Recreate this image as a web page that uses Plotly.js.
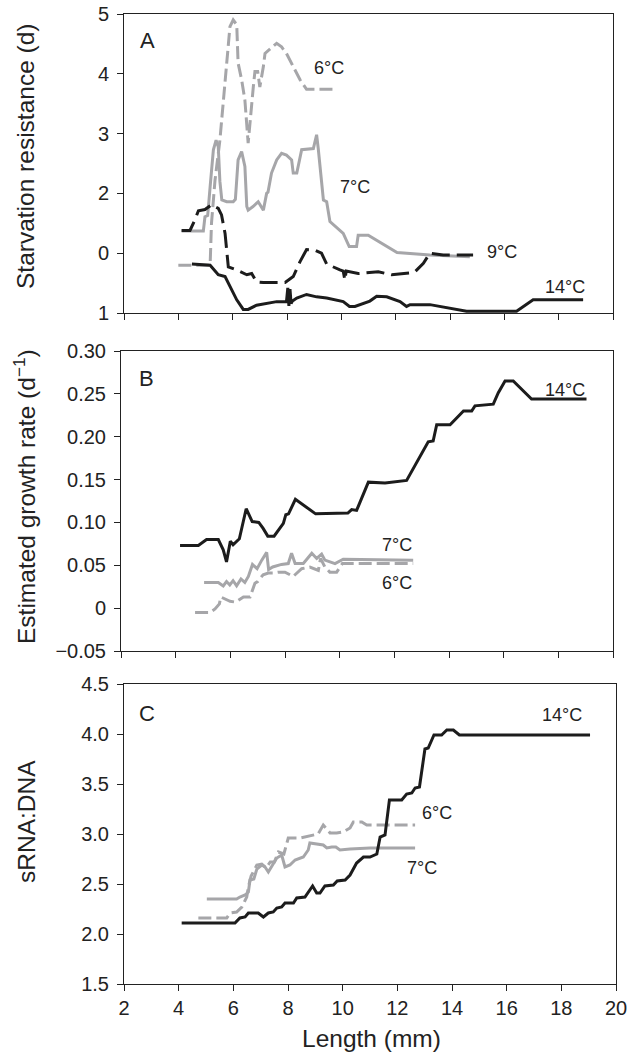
<!DOCTYPE html>
<html>
<head>
<meta charset="utf-8">
<script src="https://cdn.plot.ly/plotly-3.0.1.min.js"></script>
<style>html,body{margin:0;padding:0;background:#fff;}#chart{width:632px;height:1063px;}</style>
</head>
<body>
<div id="chart"></div>
<script>
// ---------- Panel A: starvation resistance ----------
const a6x = [4.0, 5.17, 5.22, 5.35, 5.53, 5.68, 5.78, 5.9, 6.02, 6.15, 6.2, 6.33, 6.45, 6.57, 6.76, 6.82, 6.92, 7.0, 7.13, 7.19, 7.62, 7.8, 7.98, 8.48, 8.72, 9.7];
const a6y = [0.80, 0.80, 1.5, 2.22, 2.89, 3.67, 4.23, 4.79, 4.90, 4.82, 4.18, 3.9, 3.56, 2.84, 3.78, 4.04, 4.04, 3.78, 4.12, 4.34, 4.51, 4.45, 4.34, 3.9, 3.74, 3.74];
const a7x = [4.12, 4.92, 4.98, 5.08, 5.17, 5.29, 5.39, 5.47, 5.53, 5.6, 5.78, 6.02, 6.1, 6.2, 6.33, 6.45, 6.52, 6.57, 6.75, 6.94, 7.13, 7.25, 7.3, 7.43, 7.62, 7.8, 7.98, 8.17, 8.23, 8.36, 8.54, 8.97, 9.09, 9.15, 9.34, 9.46, 9.58, 10.07, 10.29, 10.56, 10.62, 10.99, 12.05, 13.26, 14.73];
const a7y = [1.37, 1.37, 1.61, 1.63, 2.11, 2.73, 2.89, 2.78, 2.2, 1.89, 1.86, 1.86, 1.9, 2.56, 2.7, 2.45, 1.78, 1.72, 1.78, 1.86, 1.72, 2.0, 2.02, 2.34, 2.56, 2.67, 2.64, 2.56, 2.34, 2.34, 2.73, 2.75, 2.98, 2.75, 1.89, 1.86, 1.53, 1.33, 1.11, 1.11, 1.30, 1.30, 1.01, 0.97, 0.94];
const a9x = [4.12, 4.43, 4.61, 4.74, 4.98, 5.22, 5.47, 5.59, 5.72, 5.78, 5.84, 6.15, 6.52, 6.7, 6.88, 7.13, 7.93, 8.23, 8.48, 8.72, 9.03, 9.27, 9.46, 9.95, 10.07, 10.13, 10.18, 10.62, 11.36, 11.85, 12.16, 12.53, 12.71, 13.02, 13.26, 13.75, 14.85];
const a9y = [1.38, 1.38, 1.56, 1.71, 1.73, 1.81, 1.75, 1.64, 1.33, 1.05, 0.77, 0.72, 0.64, 0.66, 0.52, 0.51, 0.51, 0.61, 0.86, 1.06, 1.05, 1.0, 0.82, 0.72, 0.70, 0.55, 0.70, 0.66, 0.69, 0.64, 0.65, 0.67, 0.69, 0.83, 1.0, 0.97, 0.97];
const a14x = [4.5, 5.17, 5.47, 5.72, 6.15, 6.39, 6.57, 6.88, 7.62, 7.98, 8.03, 8.07, 8.11, 8.15, 8.2, 8.36, 8.72, 9.09, 9.46, 10.07, 10.3, 10.5, 11.05, 11.3, 11.67, 12.16, 12.4, 12.53, 13.26, 14.61, 16.45, 17.06, 18.9];
const a14y = [0.82, 0.80, 0.64, 0.61, 0.22, 0.06, 0.06, 0.13, 0.19, 0.19, 0.42, 0.12, 0.40, 0.16, 0.2, 0.25, 0.31, 0.27, 0.25, 0.19, 0.11, 0.11, 0.2, 0.28, 0.27, 0.19, 0.11, 0.14, 0.14, 0.03, 0.03, 0.22, 0.22];
const aTickVals = [0, 1, 2, 3, 4, 5];
const aTickText = ["1", "0", "2", "3", "4", "5"];

// ---------- Panel B: estimated growth rate ----------
const b6x = [4.71, 5.26, 5.44, 5.6, 5.65, 5.8, 5.99, 6.2, 6.48, 6.72, 6.9, 7.0, 7.2, 7.39, 7.57, 7.75, 8.0, 8.3, 8.61, 8.91, 9.22, 9.3, 9.46, 9.64, 9.89, 10.1, 12.69];
const b6y = [-0.005, -0.005, -0.001, 0.005, 0.013, 0.011, 0.008, 0.007, 0.013, 0.013, 0.029, 0.031, 0.039, 0.041, 0.041, 0.042, 0.042, 0.037, 0.046, 0.048, 0.044, 0.058, 0.048, 0.042, 0.042, 0.052, 0.052];
const b7x = [5.04, 5.56, 5.74, 5.86, 5.98, 6.1, 6.23, 6.39, 6.53, 6.66, 6.81, 6.98, 7.15, 7.33, 7.4, 7.55, 7.87, 8.12, 8.24, 8.37, 8.67, 8.98, 9.16, 9.34, 9.46, 9.64, 9.83, 10.13, 12.69];
const b7y = [0.030, 0.030, 0.026, 0.031, 0.027, 0.032, 0.026, 0.034, 0.030, 0.037, 0.051, 0.046, 0.056, 0.065, 0.045, 0.048, 0.051, 0.052, 0.064, 0.052, 0.052, 0.064, 0.058, 0.063, 0.056, 0.054, 0.052, 0.057, 0.056];
const b14x = [4.16, 4.83, 5.13, 5.56, 5.74, 5.86, 6.0, 6.1, 6.33, 6.58, 6.8, 7.04, 7.2, 7.37, 7.6, 7.94, 8.03, 8.13, 8.38, 9.12, 10.3, 10.44, 10.62, 11.05, 11.66, 12.45, 13.24, 13.42, 13.55, 14.04, 14.53, 14.83, 14.95, 15.62, 15.8, 16.05, 16.35, 17.02, 19.03];
const b14y = [0.073, 0.073, 0.080, 0.080, 0.068, 0.054, 0.078, 0.074, 0.081, 0.116, 0.101, 0.100, 0.093, 0.084, 0.084, 0.099, 0.109, 0.110, 0.127, 0.110, 0.111, 0.115, 0.114, 0.147, 0.146, 0.149, 0.194, 0.195, 0.214, 0.214, 0.230, 0.230, 0.236, 0.238, 0.251, 0.265, 0.265, 0.244, 0.244];
const bTickVals = [-0.05, 0, 0.05, 0.10, 0.15, 0.20, 0.25, 0.30];
const bTickText = ["\u22120.05", "0", "0.05", "0.10", "0.15", "0.20", "0.25", "0.30"];

// ---------- Panel C: sRNA:DNA ----------
const c6x = [4.72, 5.76, 5.88, 6.12, 6.31, 6.49, 6.55, 6.65, 6.86, 7.04, 7.2, 7.35, 7.5, 7.65, 7.85, 8.01, 8.44, 8.93, 9.1, 9.29, 9.54, 9.78, 10.02, 10.27, 10.39, 10.7, 10.88, 12.65];
const c6y = [2.16, 2.16, 2.21, 2.22, 2.27, 2.37, 2.47, 2.58, 2.69, 2.70, 2.66, 2.72, 2.72, 2.82, 2.80, 2.96, 2.96, 2.99, 3.0, 3.09, 3.01, 3.01, 3.02, 3.06, 3.12, 3.12, 3.09, 3.09];
const c7x = [5.03, 6.12, 6.24, 6.43, 6.55, 6.61, 6.75, 6.86, 7.04, 7.16, 7.28, 7.45, 7.59, 7.77, 7.89, 8.07, 8.26, 8.56, 8.74, 8.8, 9.29, 9.42, 9.6, 9.75, 9.9, 10.27, 11.0, 12.65];
const c7y = [2.35, 2.35, 2.37, 2.39, 2.42, 2.54, 2.55, 2.65, 2.69, 2.67, 2.62, 2.70, 2.76, 2.79, 2.67, 2.69, 2.74, 2.77, 2.84, 2.91, 2.89, 2.86, 2.87, 2.87, 2.84, 2.85, 2.86, 2.86];
const c14x = [4.11, 6.06, 6.24, 6.43, 6.55, 6.91, 7.1, 7.28, 7.46, 7.59, 7.77, 7.89, 8.2, 8.32, 8.62, 8.9, 9.05, 9.17, 9.35, 9.66, 9.8, 10.09, 10.27, 10.51, 10.76, 11.0, 11.25, 11.37, 11.55, 11.71, 12.16, 12.34, 12.53, 12.65, 12.81, 13.01, 13.13, 13.34, 13.62, 13.81, 14.05, 14.27, 19.05];
const c14y = [2.11, 2.11, 2.16, 2.17, 2.21, 2.21, 2.17, 2.21, 2.22, 2.26, 2.27, 2.31, 2.31, 2.36, 2.37, 2.48, 2.41, 2.41, 2.48, 2.49, 2.53, 2.54, 2.59, 2.71, 2.77, 2.77, 2.80, 2.97, 2.99, 3.34, 3.34, 3.40, 3.41, 3.46, 3.47, 3.85, 3.86, 3.99, 3.99, 4.04, 4.04, 3.99, 3.99];

const xTickVals = [2, 4, 6, 8, 10, 12, 14, 16, 18, 20];

const W = 632, H = 1063;
const px = v => v / W;
const py = v => 1 - v / H;
const BLACK = '#1c1c1c', GRAY = '#a6a6a9';
const FONT = 'Liberation Sans, Arial, Helvetica, sans-serif';
const dash6 = '13px,5px', dash9 = '18px,7px';

function tr(x, y, ax, color, dash) {
  return {x: x, y: y, xaxis: 'x' + ax, yaxis: 'y' + ax, type: 'scatter', mode: 'lines',
    line: {color: color, width: 3, dash: dash, shape: 'linear'}, hoverinfo: 'skip', showlegend: false};
}
const data = [
  tr(a6x, a6y, '', GRAY, dash6),
  tr(a7x, a7y, '', GRAY, 'solid'),
  tr(a9x, a9y, '', BLACK, dash9),
  tr(a14x, a14y, '', BLACK, 'solid'),
  tr(b6x, b6y, '2', GRAY, dash6),
  tr(b7x, b7y, '2', GRAY, 'solid'),
  tr(b14x, b14y, '2', BLACK, 'solid'),
  tr(c6x, c6y, '3', GRAY, dash6),
  tr(c7x, c7y, '3', GRAY, 'solid'),
  tr(c14x, c14y, '3', BLACK, 'solid')
];

const tickFont = {family: FONT, size: 20, color: '#222'};
function xa(dom, labels) {
  return {domain: dom, range: [2, 20], tickvals: xTickVals, ticks: 'outside', ticklen: 6, tickwidth: 1,
    tickcolor: '#222', showline: true, linecolor: '#222', linewidth: 1, mirror: true, showgrid: false,
    zeroline: false, showticklabels: labels, tickfont: tickFont, fixedrange: true};
}
function ya(dom, range, anchor, extra) {
  return Object.assign({domain: dom, range: range, anchor: anchor, ticks: 'outside', ticklen: 6, tickwidth: 1,
    tickcolor: '#222', showline: true, linecolor: '#222', linewidth: 1, mirror: true, showgrid: false,
    zeroline: false, tickfont: tickFont, ticklabelstandoff: 4, fixedrange: true}, extra);
}

function ann(text, x, y, size, extra) {
  return Object.assign({text: text, x: px(x), y: py(y), xref: 'paper', yref: 'paper', showarrow: false,
    xanchor: 'center', yanchor: 'middle', font: {family: FONT, size: size, color: '#222'}}, extra || {});
}

const layout = {
  width: W, height: H, margin: {l: 0, r: 0, t: 0, b: 0}, paper_bgcolor: '#fff', plot_bgcolor: '#fff',
  showlegend: false,
  xaxis: Object.assign(xa([px(124), px(613)], false), {anchor: 'y'}),
  yaxis: ya([py(313), py(14)], [0, 5], 'x', {tickvals: aTickVals, ticktext: aTickText}),
  xaxis2: Object.assign(xa([px(121), px(613)], false), {anchor: 'y2'}),
  yaxis2: ya([py(651), py(351)], [-0.05, 0.30], 'x2', {tickvals: bTickVals, ticktext: bTickText}),
  xaxis3: Object.assign(xa([px(124), px(616)], true), {anchor: 'y3'}),
  yaxis3: ya([py(984), py(684)], [1.5, 4.5], 'x3', {dtick: 0.5, tick0: 1.5, tickformat: '.1f'}),
  annotations: [
    ann('A', 147, 41, 22),
    ann('B', 146, 378, 22),
    ann('C', 147, 713, 22),
    ann('6°C', 329, 68, 18),
    ann('7°C', 355, 187, 18),
    ann('9°C', 502, 252, 18),
    ann('14°C', 565, 287, 18),
    ann('14°C', 565, 390, 18),
    ann('7°C', 397, 545, 18),
    ann('6°C', 397, 583, 18),
    ann('14°C', 562, 715, 18),
    ann('6°C', 437, 813, 18),
    ann('7°C', 422, 868, 18),
    ann('Starvation resistance (d)', 25, 156, 24.5, {textangle: -90}),
    ann('Estimated growth rate (d<sup>\u22121</sup>)', 25, 497, 24.5, {textangle: -90}),
    ann('sRNA:DNA', 26, 822, 24.5, {textangle: -90}),
    ann('Length (mm)', 371, 1038, 24.5)
  ]
};

Plotly.newPlot('chart', data, layout, {staticPlot: true, displayModeBar: false});
</script>
</body>
</html>
